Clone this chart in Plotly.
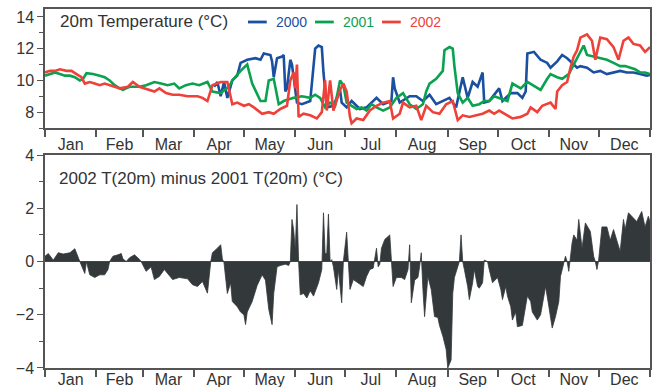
import pandas as pd
import plotly.graph_objects as go
from plotly.subplots import make_subplots

# ---- data (day of year 2002 axis) ----
t2000_days = [102, 104, 106, 108, 110, 113, 116, 118, 122, 127, 130, 132, 136, 137, 138, 140, 143, 144, 145, 146,
              148, 149, 152, 155, 160, 163, 165, 167, 168, 170, 174, 178, 179, 182, 185, 190, 194, 200, 204, 209,
              210, 211, 214, 220, 224, 228, 232, 236, 244, 248, 252, 255, 258, 261, 264, 265, 268, 274, 276, 281,
              285, 288, 290, 291, 295, 299, 303, 305, 309, 312, 315, 318, 321, 323, 327, 331, 335, 339, 343, 347,
              351, 355, 359, 363, 365]
t2000_vals = [9.6, 9.9, 9.0, 9.9, 8.9, 10.0, 10.3, 11.1, 11.3, 11.4, 11.3, 11.7, 11.6, 11.2, 10.2, 11.4, 11.5, 11.6, 9.3, 9.5,
              11.3, 11.0, 8.6, 8.5, 8.7, 12.0, 12.2, 12.1, 10.5, 8.3, 8.4, 9.4, 8.6, 8.3, 8.7, 8.2, 8.3, 8.9, 8.5, 8.7,
              10.2, 9.5, 8.6, 9.0, 9.0, 8.7, 9.1, 8.5, 8.9, 8.3, 10.2, 8.9, 9.9, 9.6, 10.5, 8.6, 8.7, 9.5, 8.7, 9.2,
              9.2, 8.9, 9.3, 11.7, 11.8, 11.3, 11.1, 10.8, 11.2, 11.6, 11.4, 11.1, 10.8, 10.9, 10.8, 10.5, 10.6, 10.4, 10.5, 10.6,
              10.5, 10.5, 10.4, 10.3, 10.35]

t2001_days = [0, 3, 6, 9, 12, 15, 18, 21, 23, 25, 29, 33, 36, 39, 42, 45, 47, 51, 54, 57, 61, 66, 70, 74, 78, 81, 85,
              89, 93, 98, 101, 106, 111, 113, 118, 122, 125, 130, 133, 135, 138, 141, 144, 147, 150, 155, 160, 163,
              166, 169, 172, 175, 178, 180, 182, 185, 188, 191, 194, 197, 200, 204, 208, 212, 216, 220, 224, 228,
              230, 232, 236, 240, 241, 244, 246, 247, 249, 252, 255, 258, 262, 265, 268, 271, 274, 279, 282, 287,
              291, 294, 299, 303, 305, 309, 312, 316, 319, 323, 325, 327, 331, 335, 339, 343, 347, 350, 353, 356,
              359, 362, 365]
t2001_vals = [10.3, 10.4, 10.5, 10.4, 10.3, 10.3, 10.2, 10.0, 10.1, 10.45, 10.4, 10.3, 10.2, 10.0, 9.7, 9.5, 9.4, 9.6, 9.6, 9.6, 9.7, 9.9, 9.8, 9.7, 9.8, 9.5, 9.7,
              9.8, 9.7, 9.9, 9.3, 9.2, 9.6, 10.0, 10.6, 11.0, 9.8, 8.7, 8.7, 10.0, 10.1, 8.5, 8.7, 8.8, 8.9, 9.0, 8.9, 9.1,
              8.9, 8.3, 8.6, 8.4, 10.0, 9.7, 8.6, 8.4, 8.2, 8.3, 8.1, 8.5, 8.3, 8.1, 8.3, 8.9, 9.2, 8.5, 8.2, 8.5,
              9.3, 9.8, 10.1, 10.6, 11.9, 12.1, 12.0, 10.9, 9.2, 8.6, 8.9, 8.4, 8.5, 8.7, 8.7, 9.0, 8.9, 8.7, 9.8, 9.5,
              9.9, 9.7, 9.4, 10.1, 10.4, 10.2, 10.1, 10.4, 11.0, 11.9, 12.2, 11.6, 11.5, 11.4, 11.3, 11.1, 10.9, 10.9, 10.8, 10.7,
              10.5, 10.5, 10.4]

t2002_days = [0, 3, 6, 9, 13, 16, 19, 22, 24, 27, 30, 33, 36, 39, 42, 45, 50, 53, 57, 60, 63, 66, 69, 73, 77, 81, 86,
              92, 95, 98, 101, 106, 110, 113, 116, 120, 123, 126, 131, 135, 138, 142, 146, 148, 150, 151, 152, 153,
              156, 160, 164, 167, 169, 170, 172, 174, 178, 180, 182, 184, 185, 188, 192, 196, 200, 204, 208, 210,
              214, 216, 220, 224, 227, 230, 234, 238, 242, 246, 249, 252, 256, 261, 264, 268, 271, 274, 279, 282,
              287, 291, 293, 297, 300, 305, 308, 309, 312, 315, 317, 319, 321, 323, 327, 330, 332, 335, 339, 343,
              346, 349, 352, 355, 359, 362, 365]
t2002_vals = [10.5, 10.6, 10.6, 10.7, 10.6, 10.6, 10.4, 10.2, 9.8, 9.9, 9.8, 9.7, 9.8, 9.7, 9.6, 9.5, 9.6, 9.9, 9.6, 9.5, 9.4, 9.3, 9.5, 9.2, 9.1, 9.1, 9.0,
              9.0, 8.9, 8.7, 9.7, 9.9, 9.9, 8.5, 8.6, 8.4, 8.5, 8.3, 7.9, 8.0, 7.9, 8.2, 8.4, 10.0, 10.5, 9.5, 11.0, 7.7,
              7.9, 7.8, 7.6, 8.0, 10.0, 8.1, 10.0, 8.1, 9.4, 9.8, 9.3, 7.7, 7.3, 7.6, 7.5, 8.1, 8.4, 8.6, 8.7, 7.6,
              7.9, 8.6, 8.3, 8.4, 7.5, 8.4, 8.0, 7.9, 8.5, 8.7, 7.5, 7.8, 7.7, 7.8, 7.9, 8.1, 7.9, 8.1, 7.8, 7.6,
              7.7, 7.9, 8.3, 8.0, 8.4, 8.6, 8.2, 9.3, 9.7, 9.9, 10.8, 11.5, 11.9, 12.7, 12.9, 12.5, 11.3, 12.7, 12.6, 12.1,
              11.3, 12.5, 12.7, 12.3, 12.2, 11.8, 12.1]

diff_days = [0, 2, 5, 8, 11, 15, 18, 20, 21, 23, 24, 25, 27, 30, 33, 36, 38, 39, 41, 44, 46, 47, 49, 51, 54, 57, 58,
             61, 64, 66, 69, 72, 74, 77, 81, 86, 89, 92, 95, 98, 100, 101, 104, 106, 107, 108, 110, 112, 113, 116,
             118, 120, 121, 122, 125, 128, 131, 133, 135, 137, 138, 140, 142, 145, 147, 148, 149, 150, 151, 152,
             153, 154, 156, 158, 160, 162, 165, 167, 168, 169, 170, 171, 172, 173, 174, 176, 177, 179, 180, 181,
             182, 183, 184, 186, 189, 192, 194, 196, 198, 200, 201, 202, 203, 205, 208, 209, 210, 212, 215, 217,
             219, 220, 221, 223, 225, 226, 227, 228, 229, 231, 233, 235, 237, 238, 240, 242, 243, 245, 246, 247,
             249, 250, 251, 252, 253, 255, 256, 258, 259, 261, 262, 264, 265, 267, 268, 270, 273, 275, 276, 278,
             279, 281, 282, 284, 285, 288, 291, 293, 294, 297, 299, 302, 304, 306, 308, 310, 311, 312, 314, 315,
             316, 318, 319, 321, 322, 324, 326, 329, 331, 332, 333, 334, 336, 339, 341, 343, 345, 347, 349, 350,
             352, 354, 357, 360, 362, 364, 365]
diff_vals = [0.2, 0.3, 0.05, 0.33, 0.28, 0.33, 0.48, 0.2, 0.0, -0.3, -0.45, 0.0, -0.5, -0.6, -0.5, -0.5, -0.3, 0.0, 0.2, 0.25, 0.3, 0.1, 0.0, 0.14, 0.25, 0.08, 0.0,
             -0.37, -0.2, -0.68, -0.56, -0.3, -0.45, -0.68, -0.6, -0.65, -0.87, -0.94, -0.75, -1.19, 0.0, 0.33, 0.5, 0.63, 0.1, -0.05, -1.2, -0.8, -1.5, -1.7,
             -1.9, -2.0, -2.37, -1.9, -1.5, -0.9, -0.5, -0.7, -1.8, -2.37, -1.2, -0.2, -0.15, -0.1, -0.15, 0.0, 1.58, 1.2, 0.45, 2.14,
             0.0, -1.25, -1.2, -1.37, -1.1, -1.3, -0.8, -0.3, 1.83, 0.3, 0.3, 1.78, 0.0, 0.07, -0.2, -1.05, -0.3, -1.55, 0.0, 0.57,
             1.1, 0.0, -1.05, -0.68, -0.8, -0.94, -0.56, -0.3, -0.25, 0.5, -0.2, -0.1, 0.5, 0.83, 1.0, 0.0, -0.94, -0.6, -0.6, -0.68,
             -0.3, 0.63, -1.55, -0.7, -0.6, -0.2, 0.33, -1.05, -2.07, -0.56, -1.05, -2.07, -2.1, -2.4, -2.8, -3.3, -4.0, -3.7, -1.2, -0.6,
             -0.2, 0.0, 1.0, 0.0, -0.3, -0.94, -1.43, -0.8, -0.3, -0.94, -1.0, -0.8, 0.05, 0.0, -0.3, -0.8, -0.6, -1.05, -1.43, -0.94,
             -1.3, -1.7, -2.2, -1.9, -2.45, -2.4, -1.3, -1.5, -1.9, -2.2, -2.0, -0.94, -1.7, -2.5, -2.07, -1.5, -0.56, -0.3, 0.2, 0.0,
             -0.37, 0.7, 1.0, 0.8, 1.58, 0.5, 1.45, 1.13, 0.2, 0.0, -0.3, 0.05, 1.3, 1.3, 0.8, 1.2, 0.8, 0.38, 1.58, 1.2,
             1.83, 1.7, 1.5, 1.88, 1.3, 1.7, 1.5]

series_names = ["2000", "2001", "2002"]
series_colors = ["#1b4f9f", "#0aa14f", "#ee4139"]
top_title = "20m Temperature (°C)"
bottom_title = "2002 T(20m) minus 2001 T(20m) (°C)"

base = pd.Timestamp("2002-01-01")


def to_dates(days):
    return base + pd.to_timedelta(days, unit="D")


fig = make_subplots(rows=2, cols=1, shared_xaxes=False, vertical_spacing=0.07)

for name, color, d, v in zip(series_names, series_colors,
                             [t2000_days, t2001_days, t2002_days],
                             [t2000_vals, t2001_vals, t2002_vals]):
    fig.add_trace(go.Scatter(x=to_dates(d), y=v, mode="lines",
                             line=dict(color=color, width=2.6), name=name, showlegend=False),
                  row=1, col=1)

fig.add_trace(go.Scatter(x=to_dates(diff_days), y=diff_vals, mode="lines", fill="tozeroy",
                         fillcolor="#33383b", line=dict(color="#33383b", width=0.8),
                         showlegend=False), row=2, col=1)

axis_color = "#555555"
xcommon = dict(type="date", range=[base, base + pd.Timedelta(days=365)], dtick="M1", tick0="2002-01-01",
               tickformat="%b", ticklabelmode="period", ticks="outside", ticklen=7, tickwidth=1.5,
               tickcolor=axis_color, showline=True, linecolor=axis_color, linewidth=1.5, mirror=True,
               showgrid=False, zeroline=False, tickfont=dict(size=16, color="#333333"),
               automargin=False)
fig.update_xaxes(**xcommon)
fig.update_xaxes(row=1, col=1, ticklabelstandoff=-6)
fig.update_xaxes(row=2, col=1, ticklabelstandoff=-11)

fig.update_yaxes(row=1, col=1, range=[7, 14.5], tick0=8, dtick=2, ticks="outside", ticklen=6, tickwidth=1.3,
                 tickcolor=axis_color, showline=True, linecolor=axis_color, linewidth=1.5, mirror=True,
                 showgrid=False, zeroline=False, tickfont=dict(size=16, color="#333333"), automargin=False,
                 minor=dict(dtick=1, tick0=7, ticks="outside", ticklen=4, tickcolor=axis_color, showgrid=False))
fig.update_yaxes(row=2, col=1, range=[-4, 4], tick0=-4, dtick=2, ticks="outside", ticklen=6, tickwidth=1.3,
                 tickcolor=axis_color, showline=True, linecolor=axis_color, linewidth=1.5, mirror=True,
                 showgrid=False, zeroline=True, zerolinecolor="#555555", zerolinewidth=1,
                 tickfont=dict(size=16, color="#333333"), automargin=False,
                 minor=dict(dtick=1, tick0=-4, ticks="outside", ticklen=4, tickcolor=axis_color, showgrid=False))

# domains (pixel-matched)
fig.update_layout(
    yaxis=dict(domain=[0.6685, 1.0]),
    yaxis2=dict(domain=[0.0, 0.5933]),
)

fig.add_annotation(x=0.0215, y=0.9638, xref="paper", yref="paper", text=top_title, showarrow=False,
                   xanchor="left", yanchor="middle", font=dict(size=17, color="#333333"))
fig.add_annotation(x=0.02, y=0.529, xref="paper", yref="paper", text=bottom_title, showarrow=False,
                   xanchor="left", yanchor="middle", font=dict(size=17, color="#333333"))

# inline legend: short coloured key line followed by coloured year text
legend_key_x = [0.3355, 0.4463, 0.5570]
key_len = 0.031
for name, color, kx in zip(series_names, series_colors, legend_key_x):
    fig.add_shape(type="line", xref="paper", yref="paper", x0=kx, x1=kx + key_len, y0=0.9638, y1=0.9638,
                  line=dict(color=color, width=2.8))
    fig.add_annotation(x=kx + key_len + 0.012, y=0.9638, xref="paper", yref="paper", text=name,
                       showarrow=False, xanchor="left", yanchor="middle", font=dict(size=14, color=color))

fig.update_layout(
    width=652, height=387,
    margin=dict(l=45, r=2, t=9, b=19, autoexpand=False),
    paper_bgcolor="white", plot_bgcolor="white",
    font=dict(family="Liberation Sans, Arial, sans-serif", color="#333333"),
    showlegend=False,
)

fig.write_html("out.html", config={"displayModeBar": False},
               post_script="document.body.style.margin='0';document.body.style.overflow='hidden';")
